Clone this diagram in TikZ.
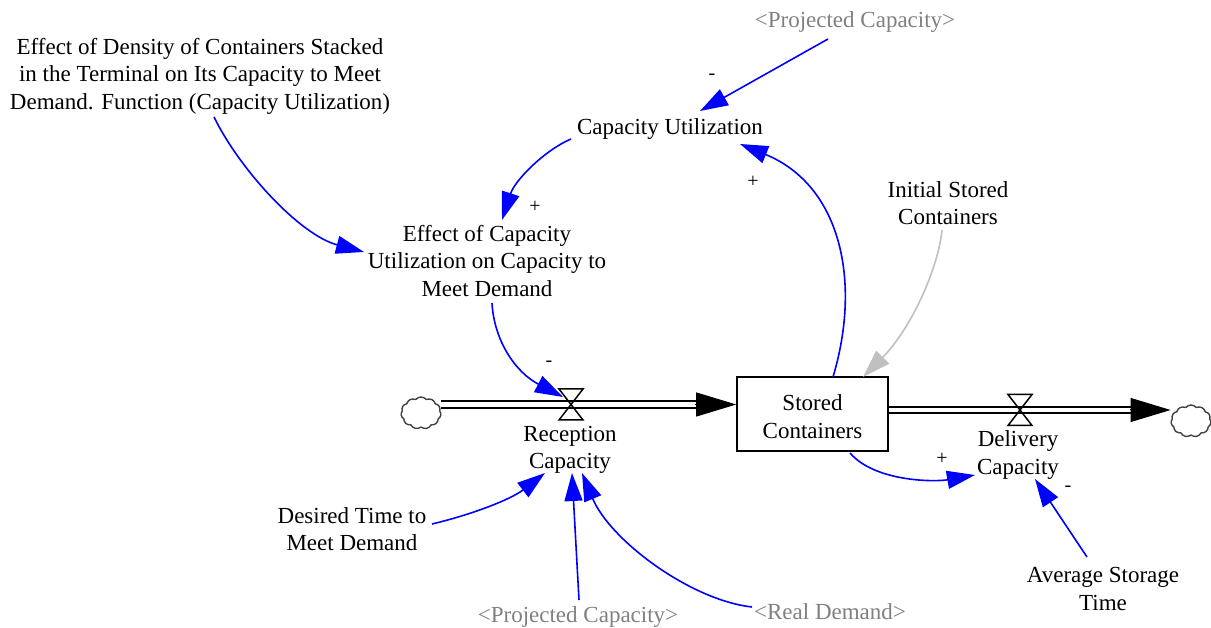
\documentclass[tikz,border=0pt]{standalone}
\usepackage{fontspec}
\setmainfont{Liberation Serif}
\usetikzlibrary{arrows.meta,shapes.symbols,calc}
\definecolor{gtext}{RGB}{128,128,128}
\definecolor{lightg}{RGB}{192,192,192}
\begin{document}
\begin{tikzpicture}[x=1pt,y=-1pt,
  txt/.style={font=\fontsize{23}{27.5}\selectfont, align=center, inner sep=2pt},
  gtxt/.style={txt, text=gtext},
  lnk/.style={draw=blue, line width=1.6pt, -{Triangle[length=28pt,width=18pt]}},
  glnk/.style={draw=lightg, line width=1.6pt, -{Triangle[length=28pt,width=18pt]}},
  pipe/.style={double distance=4.5pt, line width=2pt, draw=black},
  pipetip/.style={-{Triangle[length=40pt,width=24pt]}, line width=1pt},
  sign/.style={font=\fontsize{20}{24}\selectfont, inner sep=0pt},
  cloudn/.style={cloud, cloud puffs=11, cloud puff arc=100, cloud ignores aspect, draw=black!75, line width=1.4pt, minimum width=40pt, minimum height=32pt, inner sep=0pt},
  valve/.pic={\draw[line width=1.5pt] (-12,-15.5) -- (12,-15.5) -- (-12,15.5) -- (12,15.5) -- cycle;}
]
\useasboundingbox (0,0) rectangle (1211,628);

% nodes
\node[txt] (den) at (200,76) {Effect of Density of Containers Stacked\\in the Terminal on Its Capacity to Meet\\Demand. Function (Capacity Utilization)};
\node[gtxt] (ptop) at (855,22) {\textless Projected Capacity\textgreater};
\node[txt] (cu) at (670,129) {Capacity Utilization};
\node[txt] (ecu) at (487,261) {Effect of Capacity\\Utilization on Capacity to\\Meet Demand};
\node[txt] (isc) at (948,203) {Initial Stored\\Containers};
\node[draw, line width=1.6pt, minimum width=151pt, minimum height=74pt] (stock) at (812.5,414) {};
\node[txt] (stocklabel) at (812.5,416.5) {Stored\\Containers};
\node[txt] (rc) at (570,450) {Reception\\Capacity};
\node[txt] (dc) at (1018,455) {Delivery\\Capacity};
\node[txt] (dt) at (352,529) {Desired Time to\\Meet Demand};
\node[txt] (ast) at (1103,589) {Average Storage\\Time};
\node[gtxt] (pbot) at (578,617) {\textless Projected Capacity\textgreater};
\node[gtxt] (rd) at (830,612) {\textless Real Demand\textgreater};
\node[cloudn] (cl) at (421,413) {};
\node[cloudn] (cr) at (1191,421) {};
\coordinate (rv) at (571,404.5);
\coordinate (dv) at (1020,410);

% pipes
\draw[pipe, shorten >=39pt] (cl.east |- rv) -- (stock.west |- rv);
\draw[pipetip] ($(stock.west |- rv)+(-41,0)$) -- (stock.west |- rv);
\draw[pipe, shorten >=39pt] (stock.east |- dv) -- (cr.west |- dv);
\draw[pipetip] ($(cr.west |- dv)+(-41,0)$) -- (cr.west |- dv);
\pic at (rv) {valve};
\pic at (dv) {valve};

% links
\draw[lnk] ($(den)+(14,41)$) .. controls (240,170) and (300,235) .. ($(ecu)+(-123,-9)$);
\draw[lnk] ($(cu)+(-99,10)$) .. controls (545,150) and (515,180) .. ($(ecu)+(15,-41)$);
\draw[lnk] ($(ecu)+(5,42)$) .. controls (494,340) and (515,372) .. ($(rv)+(-8,-7.5)$);
\draw[lnk] ($(ptop)+(-27,17)$) -- ($(cu)+(30,-18)$);
\draw[lnk] ($(stock)+(20.5,-37)$) .. controls (862,280) and (840,185) .. ($(cu)+(70,15)$);
\draw[glnk] ($(isc)+(-6,27)$) .. controls (938,270) and (910,330) .. ($(stock)+(50.5,-37)$);
\draw[lnk] ($(stock)+(37.5,39)$) .. controls (875,482) and (935,482) .. ($(dc)+(-43,20)$);
\draw[lnk] ($(ast)+(-16,-32)$) -- ($(dc)+(17,24)$);
\draw[lnk] ($(dt)+(80,-5)$) .. controls (470,515) and (510,500) .. ($(rc)+(-25,23)$);
\draw[lnk] ($(pbot)+(1,-17)$) -- ($(rc)+(2,23)$);
\draw[lnk] ($(rd)+(-78,-5)$) .. controls (690,600) and (610,540) .. ($(rc)+(12,23)$);

% polarity signs
\node[sign] (s1) at (712,77) {-};
\node[sign] (s2) at (535,207) {+};
\node[sign] (s3) at (753,182) {+};
\node[sign] (s4) at (549,364) {-};
\node[sign] (s5) at (942,459) {+};
\node[sign] (s6) at (1068,489) {-};
\end{tikzpicture}
\end{document}
